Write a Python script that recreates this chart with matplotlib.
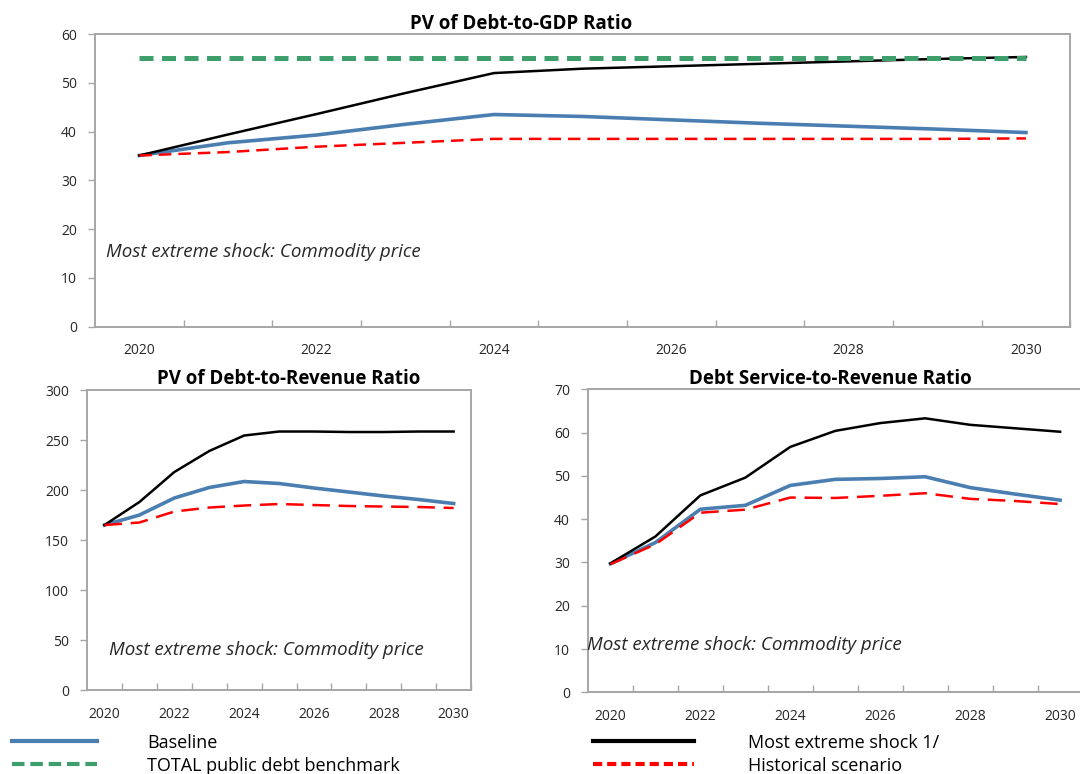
import matplotlib
matplotlib.use("Agg")
from matplotlib import pyplot as plt
from matplotlib.ticker import FixedLocator

plt.rcParams['font.family'] = ['Open Sans', 'DejaVu Sans']

years = [2020, 2021, 2022, 2023, 2024, 2025, 2026, 2027, 2028, 2029, 2030]

# PV of debt-to-GDP
gdp_baseline = [35.1, 37.7, 39.3, 41.5, 43.5, 43.1, 42.4, 41.7, 41.1, 40.5, 39.8]
gdp_shock = [35.1, 39.4, 43.6, 47.9, 52.0, 52.9, 53.4, 53.9, 54.4, 54.9, 55.3]
gdp_hist = [35.1, 35.8, 36.9, 37.7, 38.5, 38.5, 38.5, 38.5, 38.5, 38.5, 38.6]
gdp_bench = [55, 55, 55, 55, 55, 55, 55, 55, 55, 55, 55]

# PV of debt-to-revenue
rev_baseline = [165, 175, 192, 202.5, 208.5, 206.5, 202, 198, 194, 190.5, 186.5]
rev_shock = [165, 188, 218, 239, 254.5, 258.5, 258.5, 258, 258, 258.5, 258.5]
rev_hist = [165, 167.5, 178.5, 182.5, 184.5, 186, 185, 184, 183.5, 183, 182]

# Debt service-to-revenue
ds_baseline = [29.7, 34.6, 42.3, 43.2, 47.8, 49.2, 49.4, 49.8, 47.3, 45.8, 44.4]
ds_shock = [29.8, 36.0, 45.5, 49.6, 56.7, 60.4, 62.2, 63.3, 61.8, 61.0, 60.2]
ds_hist = [29.6, 34.2, 41.5, 42.2, 45.0, 44.9, 45.4, 46.0, 44.7, 44.2, 43.5]

BLUE = '#4a7eb0'
GREEN = '#3f9f6c'
RED = '#ff0000'
GRAY = '#a6a6a6'
NOTE = 'Most extreme shock: Commodity price'

fig = plt.figure(figsize=(10.8, 7.74), dpi=100)
ax1 = fig.add_axes([0.088, 0.578, 0.903, 0.378])
ax2 = fig.add_axes([0.0806, 0.1085, 0.3556, 0.3876])
ax3 = fig.add_axes([0.5444, 0.1055, 0.458, 0.3915])


def style_axes(ax, ymax, ystep, title, title_x):
    ax.set_xlim(2019.5, 2030.5)
    ax.set_ylim(0, ymax)
    ax.set_yticks(range(0, ymax + 1, ystep))
    ax.set_xticks(years[::2])
    ax.xaxis.set_minor_locator(FixedLocator([y + 0.5 for y in years]))
    ax.tick_params(axis='x', which='major', length=0, pad=12, labelsize=10, labelcolor='#262626')
    ax.tick_params(axis='x', which='minor', direction='in', length=5, width=1, color=GRAY)
    ax.tick_params(axis='y', direction='out', length=5, width=1, color=GRAY, pad=8,
                   labelsize=10, labelcolor='#262626')
    for sp in ax.spines.values():
        sp.set_color(GRAY)
        sp.set_linewidth(1.4)
    ax.set_title(title, fontsize=13.5, fontweight='bold', x=title_x, pad=4)


ax1.plot(years, gdp_baseline, color=BLUE, lw=2.6)
ax1.plot(years, gdp_shock, color='black', lw=1.8)
ax1.plot(years, gdp_hist, color=RED, lw=1.8, dashes=(5, 2.8))
ax1.plot(years, gdp_bench, color=GREEN, lw=3.6, dashes=(2.8, 1.7))
style_axes(ax1, 60, 10, 'PV of Debt-to-GDP Ratio', 0.437)
ax1.text(2019.62, 15.3, NOTE, style='italic', fontsize=13.5, va='center', color='#262626')

ax2.plot(years, rev_baseline, color=BLUE, lw=2.6)
ax2.plot(years, rev_shock, color='black', lw=1.8)
ax2.plot(years, rev_hist, color=RED, lw=1.8, dashes=(7, 3.5))
style_axes(ax2, 300, 50, 'PV of Debt-to-Revenue Ratio', 0.526)
ax2.text(2020.12, 40, NOTE, style='italic', fontsize=13.5, va='center', color='#262626')

ax3.plot(years, ds_baseline, color=BLUE, lw=2.6)
ax3.plot(years, ds_shock, color='black', lw=1.8)
ax3.plot(years, ds_hist, color=RED, lw=1.8, dashes=(7, 3.5))
style_axes(ax3, 70, 10, 'Debt Service-to-Revenue Ratio', 0.491)
ax3.text(2019.47, 11, NOTE, style='italic', fontsize=13.5, va='center', color='#262626',
         clip_on=False)

h_base, = ax1.plot([], [], color=BLUE, lw=3)
h_bench, = ax1.plot([], [], color=GREEN, lw=3, dashes=(3, 1.4))
h_shock, = ax1.plot([], [], color='black', lw=3)
h_hist, = ax1.plot([], [], color=RED, lw=3, dashes=(2.2, 1.2))

fig.legend([h_base, h_bench], ['Baseline', 'TOTAL public debt benchmark'],
           loc='upper left', bbox_to_anchor=(0.011, 0.052), frameon=False,
           fontsize=13, handlelength=4.7, handletextpad=2.8, labelspacing=0.28,
           borderpad=0, borderaxespad=0)
fig.legend([h_shock, h_hist], ['Most extreme shock 1/', 'Historical scenario'],
           loc='upper left', bbox_to_anchor=(0.549, 0.052), frameon=False,
           fontsize=13, handlelength=5.6, handletextpad=3.0, labelspacing=0.28,
           borderpad=0, borderaxespad=0)

fig.savefig('out.png', dpi=100)
